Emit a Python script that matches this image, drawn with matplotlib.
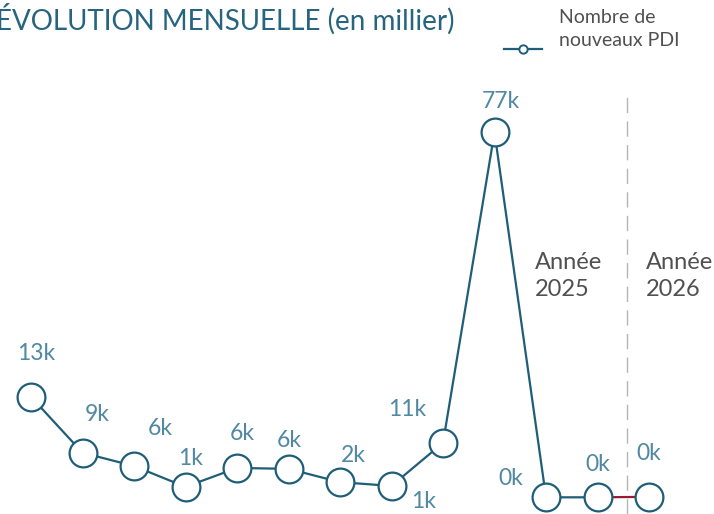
import matplotlib.pyplot as plt

plt.rcParams['font.family'] = ['Lato', 'DejaVu Sans']

# Monthly values (thousands)
values = [21.2, 9.4, 6.6, 2.2, 6.2, 6.0, 3.2, 2.4, 11.5, 77.0, 0.0, 0.0, 0.1]
labels = ['13k', '9k', '6k', '1k', '6k', '6k', '2k', '1k', '11k', '77k', '0k', '0k', '0k']
series_name = 'Nombre de\nnouveaux PDI'
year_labels = ['Année\n2025', 'Année\n2026']

# label offsets in pixels from the marker centre
label_offsets = [(5, 43), (15, 38), (26, 38), (5, 28), (5, 34), (1, 28), (13, 27),
                 (32, -16), (-36, 33), (6, 31), (-35, 19), (0, 33), (0, 43)]

line_col = '#1f5e78'
label_col = '#5188a2'
text_col = '#505050'

fig = plt.figure(figsize=(7.14, 5.14), dpi=100)
ax = fig.add_axes([0, 0, 1, 1])
ax.set_xlim(-0.602, 13.262)
ax.set_ylim(-3.52, 104.9)
ax.axis('off')

x = list(range(len(values)))

# main line, last segment in red
ax.plot(x[:-1], values[:-1], color=line_col, lw=1.6, zorder=2)
ax.plot(x[-2:], values[-2:], color='#9b1b30', lw=1.6, zorder=2)
ax.plot(x, values, linestyle='none', marker='o', markersize=20,
        markerfacecolor='white', markeredgecolor=line_col, markeredgewidth=1.6, zorder=3)

for xi, v, lab, off in zip(x, values, labels, label_offsets):
    ax.annotate(lab, (xi, v), xytext=(off[0] * 0.72, off[1] * 0.72), textcoords='offset points',
                ha='center', va='center', fontsize=16.5, color=label_col)

# year separator
ax.axvline(11.567, ymin=0, ymax=422 / 514, color='#b5b5b5', lw=1.0,
           linestyle=(0, (11, 6)))
ax.text(535 / 714, 1 - 252 / 514, year_labels[0], transform=ax.transAxes,
        ha='left', va='top', fontsize=17, color=text_col, linespacing=1.35)
ax.text(646 / 714, 1 - 252 / 514, year_labels[1], transform=ax.transAxes,
        ha='left', va='top', fontsize=17, color=text_col, linespacing=1.35)

# title, cut at left edge as in the original
fig.text(-0.006, 1 - 3 / 514, 'ÉVOLUTION MENSUELLE (en millier)', ha='left', va='top',
         fontsize=20, color='#27657f')

# legend
fig.add_artist(plt.Line2D([504 / 714, 542 / 714], [1 - 49 / 514, 1 - 49 / 514],
                          color=line_col, lw=1.6, transform=fig.transFigure))
fig.add_artist(plt.Line2D([523 / 714], [1 - 49 / 514], color=line_col, marker='o',
                          markersize=6, markerfacecolor='white', markeredgewidth=1.4,
                          linestyle='none', transform=fig.transFigure))
fig.text(559 / 714, 1 - 9 / 514, series_name, ha='left', va='top', fontsize=14,
         color=text_col, linespacing=1.4)

fig.savefig('out.png', dpi=100)
